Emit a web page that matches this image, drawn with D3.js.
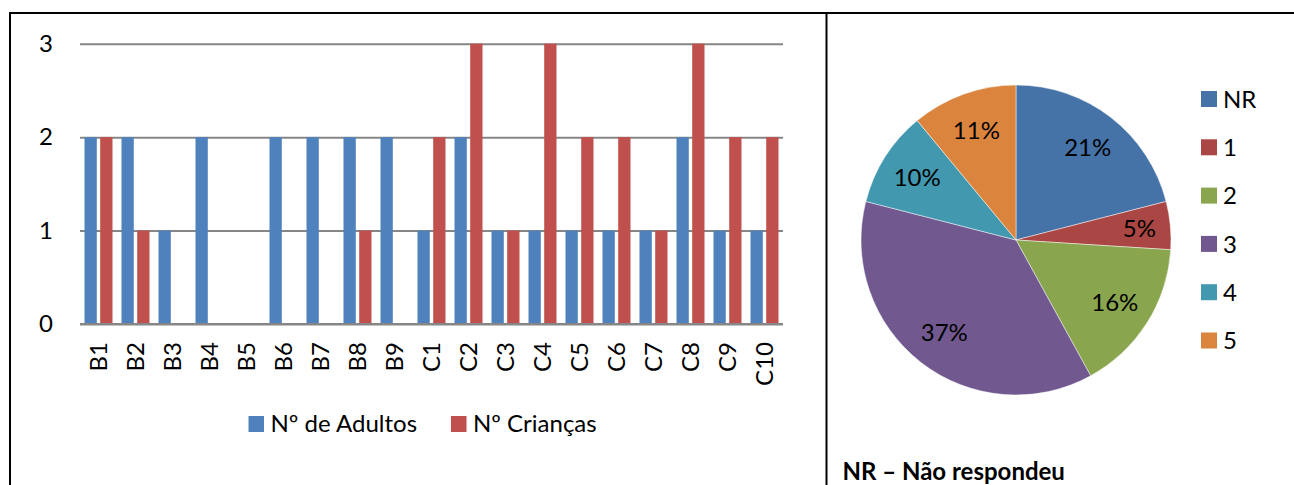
<!DOCTYPE html>
<html>
<head>
<meta charset="utf-8">
<script src="https://cdn.jsdelivr.net/npm/d3@7"></script>
<style>
  html, body { margin: 0; padding: 0; background: #fff; }
  svg { display: block; }
  text { font-family: Lato, "Open Sans", sans-serif; fill: #000; }
</style>
</head>
<body>
<svg id="chart" width="1294" height="485"></svg>
<script>
// Household composition per dwelling
const categories = ["B1","B2","B3","B4","B5","B6","B7","B8","B9","C1","C2","C3","C4","C5","C6","C7","C8","C9","C10"];
const seriesNames = ["Nº de Adultos", "Nº Crianças"];
const adults   = [2,2,1,2,0,2,2,2,2,1,2,1,1,1,1,1,2,1,1];
const children = [2,1,0,0,0,0,0,1,0,2,3,1,3,2,2,1,3,2,2];
const yTicks = [0, 1, 2, 3];

// Answer distribution (percent)
const pieLabels = ["NR", "1", "2", "3", "4", "5"];
const pieValues = [21, 5, 16, 37, 10, 11];
const footnote = "NR – Não respondeu";

const barColors = ["#4F81BD", "#C0504D"];
const pieColors = ["#4572A7", "#AA4643", "#89A54E", "#71588F", "#4198AF", "#DB843D"];

const svg = d3.select("#chart");
const FS = 24;

// Frame: top rule, left rule, divider between panels
svg.append("line").attr("x1", 9).attr("x2", 1294).attr("y1", 13).attr("y2", 13)
  .attr("stroke", "#000").attr("stroke-width", 2);
svg.append("line").attr("x1", 10).attr("x2", 10).attr("y1", 12).attr("y2", 485)
  .attr("stroke", "#000").attr("stroke-width", 2);
svg.append("line").attr("x1", 826.5).attr("x2", 826.5).attr("y1", 12).attr("y2", 485)
  .attr("stroke", "#000").attr("stroke-width", 2);

// ---------- Bar chart ----------
const x0 = d3.scaleBand().domain(categories).range([80, 783]).padding(0);
const x1 = d3.scaleBand().domain(seriesNames).range([0, x0.bandwidth()])
  .paddingInner(0.217).paddingOuter(0.287);
const y = d3.scaleLinear().domain([0, 3]).range([324, 43.7]);

const gridG = svg.append("g").attr("transform", "translate(80,0)")
  .call(d3.axisLeft(y).tickValues(yTicks).tickFormat(d3.format("d"))
    .tickSize(-(783 - 80)).tickPadding(27));
gridG.select(".domain").remove();
gridG.selectAll(".tick line").attr("stroke", "#868686").attr("stroke-width", 2);
gridG.selectAll(".tick text").attr("font-size", FS).attr("font-family", "Lato, sans-serif");

const rows = categories.map((c, i) => ({ cat: c, vals: [adults[i], children[i]] }));
const groups = svg.append("g").selectAll("g").data(rows).join("g")
  .attr("transform", d => `translate(${x0(d.cat)},0)`);
groups.selectAll("rect")
  .data(d => d.vals.map((v, k) => ({ key: seriesNames[k], v, k })))
  .join("rect")
  .attr("x", d => x1(d.key))
  .attr("width", x1.bandwidth())
  .attr("y", d => y(d.v))
  .attr("height", d => y(0) - y(d.v))
  .attr("fill", d => barColors[d.k]);

// baseline redrawn on top of bars
svg.append("line").attr("x1", 80).attr("x2", 783).attr("y1", y(0)).attr("y2", y(0))
  .attr("stroke", "#868686").attr("stroke-width", 2);

const xAxisG = svg.append("g").attr("transform", `translate(0,${y(0)})`)
  .call(d3.axisBottom(x0).tickSize(0).tickPadding(0));
xAxisG.select(".domain").remove();
xAxisG.selectAll(".tick text")
  .attr("font-size", FS).attr("font-family", "Lato, sans-serif")
  .attr("transform", "rotate(-90)")
  .attr("text-anchor", "end")
  .attr("x", -18).attr("y", 0).attr("dy", "0.36em");

// bar legend
const barLegend = [
  { name: seriesNames[0], color: barColors[0], x: 248.5 },
  { name: seriesNames[1], color: barColors[1], x: 451 }
];
const bl = svg.append("g").selectAll("g").data(barLegend).join("g")
  .attr("transform", d => `translate(${d.x},416)`);
bl.append("rect").attr("width", 15.5).attr("height", 16).attr("fill", d => d.color);
bl.append("text").attr("x", 22).attr("y", 16).attr("font-size", FS).text(d => d.name);

// ---------- Pie chart ----------
const cx = 1016, cy = 240, R = 155;
const pie = d3.pie().sort(null).value(d => d);
const arcs = pie(pieValues);
const arc = d3.arc().innerRadius(0).outerRadius(R);
// small slices get their label pushed a little further out
const labelRadius = d => (d.endAngle - d.startAngle) < 0.4 ? 124 : 117;

const pg = svg.append("g").attr("transform", `translate(${cx},${cy})`);
pg.selectAll("path").data(arcs).join("path")
  .attr("d", arc)
  .attr("fill", (d, i) => pieColors[i])
  .attr("stroke", "#ffffff").attr("stroke-opacity", 0.6).attr("stroke-width", 0.8);
pg.selectAll("text").data(arcs).join("text")
  .attr("transform", d => {
    const r = labelRadius(d);
    return `translate(${d3.arc().innerRadius(r).outerRadius(r).centroid(d)})`;
  })
  .attr("text-anchor", "middle")
  .attr("dy", "0.36em")
  .attr("font-size", FS)
  .text(d => d.data + "%");

// pie legend
const pl = svg.append("g").selectAll("g").data(pieLabels).join("g")
  .attr("transform", (d, i) => `translate(1201,${91 + i * 48.3})`);
pl.append("rect").attr("width", 16).attr("height", 16).attr("fill", (d, i) => pieColors[i]);
pl.append("text").attr("x", 22).attr("y", 8).attr("dy", "0.36em").attr("font-size", FS).text(d => d);

// footnote
svg.append("text").attr("x", 842.5).attr("y", 480)
  .attr("font-size", FS).attr("font-weight", "bold").text(footnote);
</script>
</body>
</html>
